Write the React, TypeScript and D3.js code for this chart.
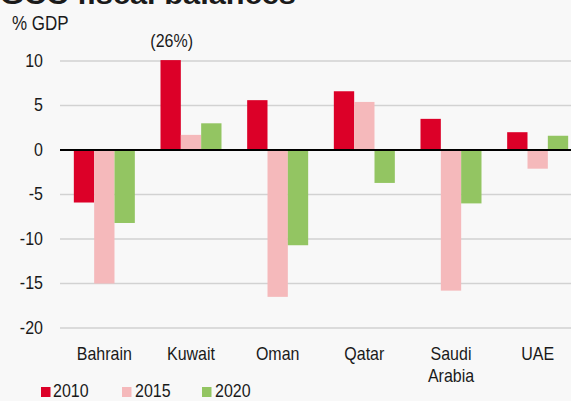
import React from "react";
import * as d3 from "d3";

const categories = ["Bahrain", "Kuwait", "Oman", "Qatar", "Saudi Arabia", "UAE"];
const seriesNames = ["2010", "2015", "2020"];
const values2010 = [-5.9, 10.1, 5.6, 6.6, 3.5, 2.0];
const values2015 = [-15.0, 1.7, -16.5, 5.4, -15.8, -2.1];
const values2020 = [-8.2, 3.0, -10.7, -3.7, -6.0, 1.6];
const yTicks = [10, 5, 0, -5, -10, -15, -20];
const colors = ["#dc0028", "#f5b9bb", "#93c562"];

const W = 571;
const H = 401;
const FONT = "'Liberation Sans', Arial, sans-serif";
const SY = 1.15;

function T({ x, y, anchor = "start", size = 16, children, weight = "normal", len }: any) {
  return (
    <text
      transform={`translate(${x},${y}) scale(1,${SY})`}
      fontSize={size}
      textAnchor={anchor}
      fontWeight={weight}
      fill="#1a1a1a"
      textLength={len}
      lengthAdjust={len ? "spacingAndGlyphs" : undefined}
    >
      {children}
    </text>
  );
}

export default function App() {
  const series = [values2010, values2015, values2020];
  const y = d3.scaleLinear().domain([-20, 10]).range([328, 61]);
  const x0 = d3.scaleBand<string>().domain(categories).range([61, 581]).padding(0);
  const bw = x0.bandwidth();
  const groupW = 61;
  const gap = (bw - groupW) / 2;
  const x1 = d3.scaleBand<string>().domain(seriesNames).range([gap, bw - gap]).padding(0);

  const legendItems = [
    { name: "2010", sx: 41, tx: 53 },
    { name: "2015", sx: 122, tx: 135 },
    { name: "2020", sx: 202, tx: 215 },
  ];

  return (
    <svg
      width={W}
      height={H}
      style={{ position: "absolute", left: 0, top: 0, background: "#f8f8f8" }}
      fontFamily={FONT}
    >
      <rect x={0} y={0} width={W} height={H} fill="#f8f8f8" />
      <T x={0} y={4} size={24} weight="bold" len={296}>
        GCC fiscal balances
      </T>
      <T x={12} y={30} size={17}>% GDP</T>
      {yTicks.map((t) => (
        <g key={t}>
          {t !== 0 && (
            <line x1={60} x2={W} y1={y(t)} y2={y(t)} stroke="#d2d2d2" strokeWidth={1.5} />
          )}
          <T x={43} y={y(t) + 5.5} anchor="end">
            {t}
          </T>
        </g>
      ))}
      {categories.map((c, ci) =>
        series.map((vals, si) => {
          const v = vals[ci];
          const bx = (x0(c) as number) + (x1(seriesNames[si]) as number);
          const top = Math.min(y(v), y(0));
          const h = Math.abs(y(v) - y(0));
          return (
            <rect key={c + si} x={bx} y={top} width={x1.bandwidth()} height={h} fill={colors[si]} />
          );
        })
      )}
      <line x1={60} x2={W} y1={y(0)} y2={y(0)} stroke="#000" strokeWidth={2} />
      <T
        x={(x0("Kuwait") as number) + (x1("2010") as number) + x1.bandwidth() / 2 + 1}
        y={47}
        anchor="middle"
      >
        (26%)
      </T>
      {categories.map((c) => {
        const cx = (x0(c) as number) + bw / 2;
        const parts = c === "Saudi Arabia" ? ["Saudi", "Arabia"] : [c];
        return (
          <g key={c}>
            {parts.map((p, i) => (
              <T key={p} x={cx} y={360 + i * 22} anchor="middle">
                {p}
              </T>
            ))}
          </g>
        );
      })}
      {legendItems.map((l, i) => (
        <g key={l.name}>
          <rect x={l.sx} y={387} width={9.5} height={10} fill={colors[i]} />
          <T x={l.tx} y={397}>
            {l.name}
          </T>
        </g>
      ))}
    </svg>
  );
}
